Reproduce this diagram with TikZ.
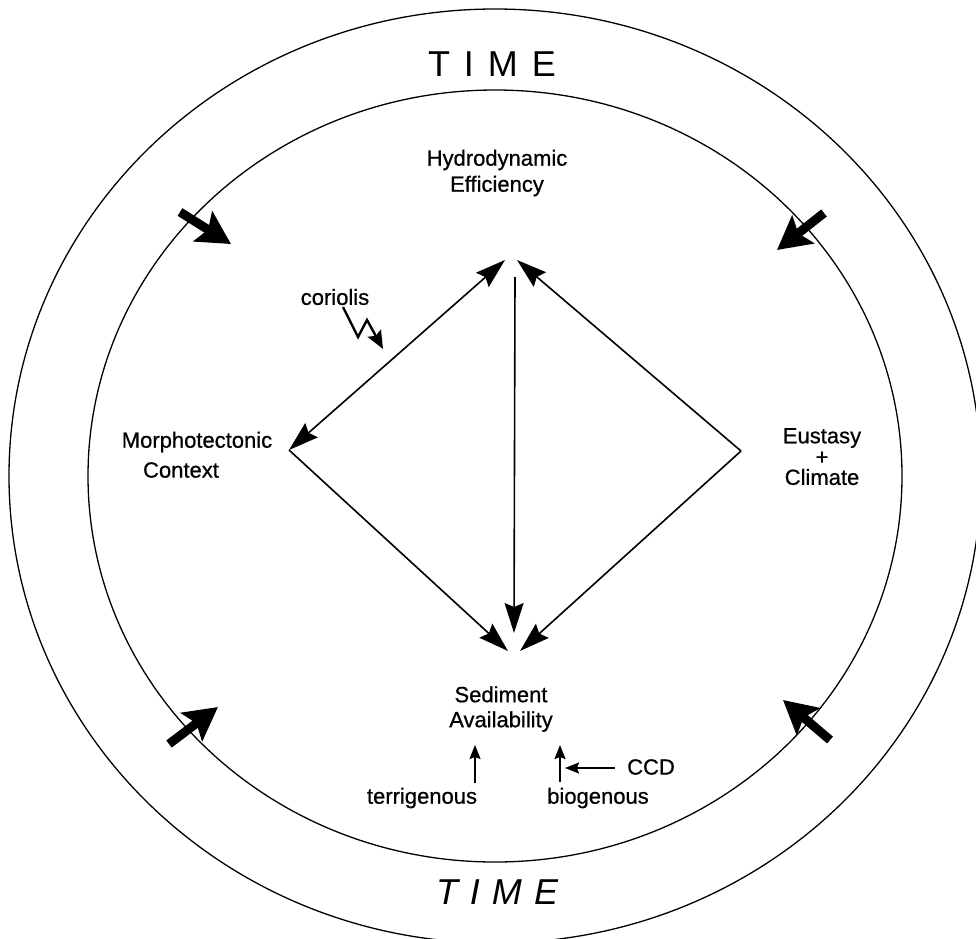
\documentclass[tikz,border=0pt]{standalone}
\usepackage{fontspec}
\setmainfont{Liberation Sans}
\newfontfamily\lblfont{Liberation Sans}[FakeBold=0.7]
\usetikzlibrary{arrows.meta}
\tikzset{
  lbl/.style={font=\lblfont\fontsize{22}{24}\selectfont, inner sep=0pt, align=center},
  timelbl/.style={font=\fontsize{36}{40}\selectfont, inner sep=0pt},
  ring/.style={line width=1.3pt},
  link/.style={line width=1.6pt},
  dhead/.tip={Stealth[length=30pt,width=19pt,inset=4pt]},
  bigarrow/.style={line width=9pt, -{Stealth[length=33pt,width=35pt,inset=6pt]}},
  smallarrow/.style={line width=2pt, -{Stealth[length=14pt,width=11pt,inset=2pt]}}
}
\begin{document}
\begin{tikzpicture}[x=1pt,y=-1pt]
\useasboundingbox (0,0) rectangle (976,938);
% rings
\draw[ring] (495,476) ellipse [x radius=486, y radius=467];
\draw[ring] (495,476) ellipse [x radius=407, y radius=386];
% TIME labels
\node[timelbl] (timetop) at (492,64) {T\hspace{14pt}I\hspace{14pt}M\hspace{14pt}E};
\node[timelbl, font=\fontsize{36}{40}\selectfont\itshape] (timebot) at (497,892) {T\hspace{12pt}I\hspace{12pt}M\hspace{12pt}E};
% labels
\node[lbl] (hydro) at (497,173) {Hydrodynamic\\[2pt]Efficiency};
\node[lbl] (morph1) at (197,442) {Morphotectonic};
\node[lbl] (morph2) at (181,470) {Context};
\node[lbl] (eust1) at (822,438) {Eustasy};
\node[lbl] (eust2) at (822,458) {+};
\node[lbl] (eust3) at (822,477) {Climate};
\node[lbl] (sed) at (501,709) {Sediment\\[1pt]Availability};
\node[lbl] (terr) at (422,798) {terrigenous};
\node[lbl] (biog) at (598,798) {biogenous};
\node[lbl, anchor=west] (ccd) at (627,767) {CCD};
\node[lbl] (cor) at (335,297) {coriolis};
% diamond vertices
\coordinate (topL) at (505,260);
\coordinate (topR) at (517,260);
\coordinate (vtop) at (515,277);
\coordinate (vbot) at (514,633);
\coordinate (botL) at (508,651);
\coordinate (botR) at (520,651);
\coordinate (left) at (289,450);
\coordinate (right) at (741,451);
\draw[link, {dhead}-{dhead}] (left) -- (topL);
\draw[link, -{dhead}] (left) -- (botL);
\draw[link, -{dhead}] (right) -- (topR);
\draw[link, -{dhead}] (right) -- (botR);
\draw[link, -{dhead}] (vtop) -- (vbot);
% coriolis zigzag
\coordinate (z0) at (343,307);
\coordinate (z1) at (358,337);
\coordinate (z2) at (367,320);
\coordinate (z3) at (383,349);
\draw[line width=2.4pt, line join=miter, -{Stealth[length=18pt,width=15pt,inset=3pt]}] (z0) -- (z1) -- (z2) -- (z3);
% big arrows
\coordinate (a1s) at (180,212); \coordinate (a1e) at (231,244);
\coordinate (a2s) at (824,213); \coordinate (a2e) at (777,250);
\coordinate (a3s) at (169,744); \coordinate (a3e) at (218,707);
\coordinate (a4s) at (830,740); \coordinate (a4e) at (783,700);
\draw[bigarrow] (a1s) -- (a1e);
\draw[bigarrow] (a2s) -- (a2e);
\draw[bigarrow] (a3s) -- (a3e);
\draw[bigarrow] (a4s) -- (a4e);
% small arrows
\coordinate (t0) at (475,783); \coordinate (t1) at (475,745);
\coordinate (b0) at (560,782); \coordinate (b1) at (560,745);
\coordinate (c0) at (615,768); \coordinate (c1) at (565,768);
\draw[smallarrow] (t0) -- (t1);
\draw[smallarrow] (b0) -- (b1);
\draw[smallarrow] (c0) -- (c1);
\end{tikzpicture}
\end{document}
